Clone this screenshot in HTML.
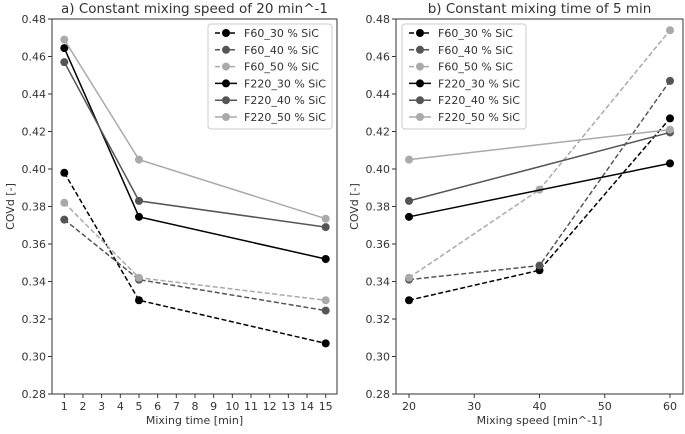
<!DOCTYPE html>
<html><head><meta charset="utf-8"><style>
body{margin:0;background:#fff;font-family:"DejaVu Sans","Liberation Sans",sans-serif;}
svg text{font-family:"DejaVu Sans","Liberation Sans",sans-serif;fill:#333;}
</style></head><body>
<svg id="c" width="685" height="430" xmlns="http://www.w3.org/2000/svg"></svg>
<script>
const seriesNames=["F60_30 % SiC","F60_40 % SiC","F60_50 % SiC","F220_30 % SiC","F220_40 % SiC","F220_50 % SiC"];
const seriesColors=["#000","#555","#aaa","#000","#555","#aaa"];
const seriesDashed=[true,true,true,false,false,false];
const timeX=[1,5,15];
const timeF60_30=[0.398,0.330,0.307];
const timeF60_40=[0.373,0.341,0.3245];
const timeF60_50=[0.382,0.342,0.330];
const timeF220_30=[0.4645,0.3745,0.352];
const timeF220_40=[0.457,0.383,0.369];
const timeF220_50=[0.469,0.405,0.3735];
const speedX=[20,40,60];
const speedF60_30=[0.330,0.346,0.427];
const speedF60_40=[0.341,0.3485,0.447];
const speedF60_50=[0.342,0.389,0.474];
const speedF220_30=[0.3745,null,0.403];
const speedF220_40=[0.383,null,0.4195];
const speedF220_50=[0.405,null,0.421];
const yTicks=[0.28,0.30,0.32,0.34,0.36,0.38,0.40,0.42,0.44,0.46,0.48];
const timeTicks=[1,2,3,4,5,6,7,8,9,10,11,12,13,14,15];
const speedTicks=[20,30,40,50,60];

const svg=document.getElementById('c');
const NS='http://www.w3.org/2000/svg';
function mk(tag,attrs,parent){const e=document.createElementNS(NS,tag);for(const k in attrs)e.setAttribute(k,attrs[k]);(parent||svg).appendChild(e);return e;}

function panel(o){
  const g=mk('g',{});
  
  
  const yS=v=>o.top+(0.48-v)/0.20*(o.bottom-o.top);
  const xS=v=>o.x0px+(v-o.xd0)/(o.xd1-o.xd0)*(o.x1px-o.x0px);
  yTicks.forEach(t=>{
    const y=yS(t);
    mk('line',{x1:o.left-4,x2:o.left,y1:y,y2:y,stroke:'#333','stroke-width':1},g);
    const tx=mk('text',{x:o.left-6,y:y+4,'text-anchor':'end','font-size':11},g);tx.textContent=t.toFixed(2);
    
    
  });
  o.ticks.forEach(t=>{
    const x=xS(t);
    mk('line',{x1:x,x2:x,y1:o.bottom,y2:o.bottom+4,stroke:'#333','stroke-width':1},g);
    const tx=mk('text',{x:x,y:o.bottom+16,'text-anchor':'middle','font-size':11},g);tx.textContent=t;
    
    
  });
  o.series.forEach((s,i)=>{
    const pts=[];o.xs.forEach((xv,j)=>{if(s[j]!=null)pts.push([xS(xv),yS(s[j])]);});
    const pl=mk('polyline',{points:pts.map(p=>p.join(',')).join(' '),fill:'none',stroke:seriesColors[i],'stroke-width':1.5},g);
    if(seriesDashed[i])pl.setAttribute('stroke-dasharray','5,2.5');
    
    
    pts.forEach(p=>{const c=mk('circle',{cx:p[0],cy:p[1],r:4,fill:seriesColors[i]},g);
      
      });
  });
  mk('rect',{x:o.left,y:o.top,width:o.right-o.left,height:o.bottom-o.top,fill:'none',stroke:'#333','stroke-width':1},g);
  const tt=mk('text',{x:(o.left+o.right)/2,y:13,'text-anchor':'middle','font-size':13.5},g);tt.textContent=o.title;
  
  
  const xt=mk('text',{x:(o.left+o.right)/2,y:424,'text-anchor':'middle','font-size':11},g);xt.textContent=o.xlabel;
  
  
  const yy=(o.top+o.bottom)/2;
  const yt=mk('text',{x:o.left-38,y:yy,'text-anchor':'middle','font-size':11,transform:`rotate(-90 ${o.left-38} ${yy})`},g);yt.textContent='COVd [-]';
  
  
  const lg=mk('g',{},g);
  
  
  mk('rect',{x:o.lx,y:24,width:124,height:105,rx:3,fill:'#fff',stroke:'#ccc','stroke-width':1},lg);
  seriesNames.forEach((n,i)=>{
    const y=33+i*16.8;
    const l=mk('line',{x1:o.lx+7,x2:o.lx+29,y1:y,y2:y,stroke:seriesColors[i],'stroke-width':1.5},lg);
    if(seriesDashed[i])l.setAttribute('stroke-dasharray','5,2.5');
    mk('circle',{cx:o.lx+18,cy:y,r:4,fill:seriesColors[i]},lg);
    const t=mk('text',{x:o.lx+36,y:y+4,'font-size':11},lg);t.textContent=n;
    
    
  });
}
panel({name:'panel-a',title:'a) Constant mixing speed of 20 min^-1',xlabel:'Mixing time [min]',left:52,right:337,top:19,bottom:394,
  x0px:64.3,x1px:325.7,xd0:1,xd1:15,ticks:timeTicks,xs:timeX,
  series:[timeF60_30,timeF60_40,timeF60_50,timeF220_30,timeF220_40,timeF220_50],lx:208});
panel({name:'panel-b',title:'b) Constant mixing time of 5 min',xlabel:'Mixing speed [min^-1]',left:396,right:683,top:19,bottom:394,
  x0px:409,x1px:670,xd0:20,xd1:60,ticks:speedTicks,xs:speedX,
  series:[speedF60_30,speedF60_40,speedF60_50,speedF220_30,speedF220_40,speedF220_50],lx:402});
</script>
</body></html>
